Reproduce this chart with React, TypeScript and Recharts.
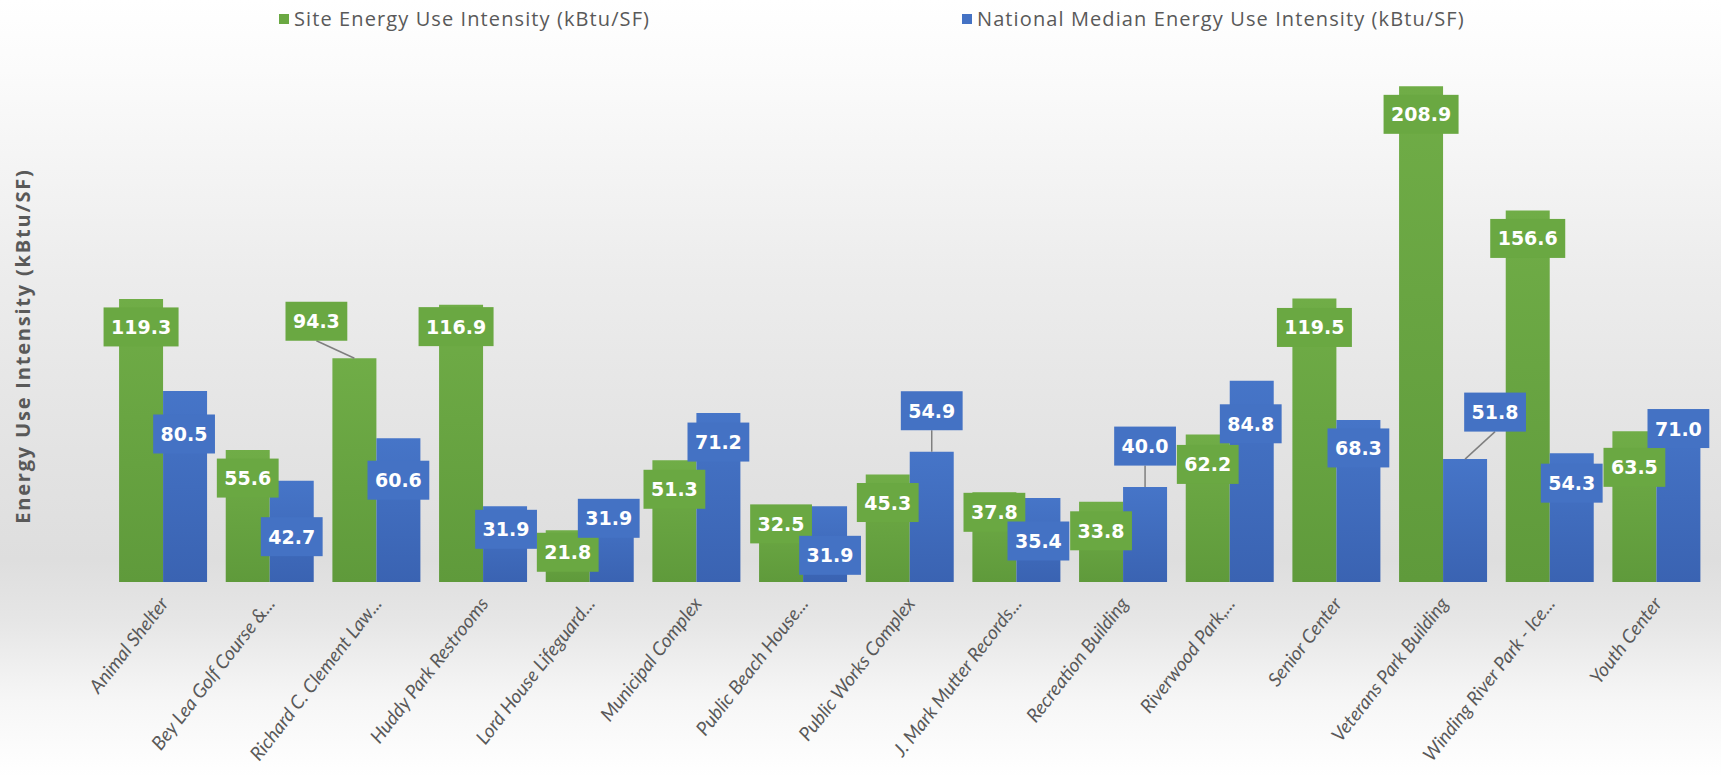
import React from 'react';
import { BarChart, Bar, XAxis, YAxis, LabelList } from 'recharts';

const buildings = [
  'Animal Shelter',
  'Bey Lea Golf Course &...',
  'Richard C. Clement Law...',
  'Huddy Park Restrooms',
  'Lord House Lifeguard...',
  'Municipal Complex',
  'Public Beach House...',
  'Public Works Complex',
  'J. Mark Mutter Records...',
  'Recreation Building',
  'Riverwood Park,...',
  'Senior Center',
  'Veterans Park Building',
  'Winding River Park - Ice...',
  'Youth Center',
];

const siteEui = [119.3, 55.6, 94.3, 116.9, 21.8, 51.3, 32.5, 45.3, 37.8, 33.8, 62.2, 119.5, 208.9, 156.6, 63.5];
const nationalEui = [80.5, 42.7, 60.6, 31.9, 31.9, 71.2, 31.9, 54.9, 35.4, 40.0, 84.8, 68.3, 51.8, 54.3, 71.0];

const yDomain: [number, number] = [0, 220];

// label box placement relative to the bar top (box centre), like Excel's callouts
const siteNudge: [number, number][] = [
  [0, 28], [0, 28], [-38, -37], [-5, 22], [0, 22], [0, 29], [0, 19], [0, 28],
  [0, 20], [0, 29], [0, 30], [0, 29], [0, 28], [0, 28], [0, 36],
];
const nationalNudge: [number, number][] = [
  [-1, 43], [0, 56], [0, 42], [1, 23], [-3, 12], [0, 29], [5, 49], [0, -41],
  [0, 43], [0, -41], [-1, 43], [0, 28], [30, -47], [0, 30], [0, 15],
];
const callouts = {
  site: [2],
  national: [7, 9, 12],
};

const data = buildings.map((name, i) => ({
  name,
  site: siteEui[i],
  national: nationalEui[i],
}));

const GREEN = '#6aa842';
const BLUE = '#4472c4';
const GREY = '#595959';

function makeLabel(series: 'site' | 'national') {
  const nudge = series === 'site' ? siteNudge : nationalNudge;
  const fill = series === 'site' ? GREEN : BLUE;
  return (props: any) => {
    const { x, y, width, value, index } = props;
    const [dx, dy] = nudge[index] || [0, 28];
    const barCx = Number(x) + Number(width) / 2;
    const barTop = Number(y);
    const cx = barCx + dx;
    const cy = barTop + dy;
    const txt = Number(value).toFixed(1);
    const digits = txt.replace('.', '').length;
    const w = digits * 13.2 + 7.2 + 15;
    const h = 39;
    const isCallout = callouts[series].includes(index);
    return (
      <g>
        {isCallout && (
          <line x1={cx} y1={cy + h / 2} x2={barCx} y2={barTop} stroke="#7f7f7f" strokeWidth={1.5} />
        )}
        <rect x={cx - w / 2} y={cy - h / 2} width={w} height={h} fill={fill} />
        <text
          x={cx}
          y={cy}
          textAnchor="middle"
          dominantBaseline="central"
          fill="#ffffff"
          fontFamily="DejaVu Sans"
          fontWeight="bold"
          fontSize={19}
        >
          {txt}
        </text>
      </g>
    );
  };
}

function NameTick(props: any) {
  const { x, y, payload } = props;
  return (
    <g transform={`translate(${x + 6},${y + 14})`}>
      <text
        textAnchor="end"
        transform="rotate(-52)"
        fill={GREY}
        fontFamily="Lato"
        fontStyle="italic"
        fontSize={19}
      >
        {payload.value}
      </text>
    </g>
  );
}

const legendStyle: React.CSSProperties = {
  position: 'absolute',
  top: 5,
  display: 'flex',
  alignItems: 'center',
  color: GREY,
  fontSize: 20,
  letterSpacing: 1.1,
  whiteSpace: 'nowrap',
};

export default function App() {
  return (
    <div
      style={{
        position: 'absolute',
        left: 0,
        top: 0,
        width: 1721,
        height: 777,
        background:
          'linear-gradient(to bottom, #ffffff 0%, #fbfbfb 9%, #ececec 36%, #e3e3e3 58%, #dedede 72%, #e6e6e6 80%, #f6f6f6 90%, #ffffff 100%)',
        fontFamily: 'Open Sans',
      }}
    >
      <div style={{ ...legendStyle, left: 279 }}>
        <span style={{ width: 10, height: 10, background: GREEN, marginRight: 5 }} />
        Site Energy Use Intensity (kBtu/SF)
      </div>
      <div style={{ ...legendStyle, left: 962 }}>
        <span style={{ width: 10, height: 10, background: BLUE, marginRight: 5 }} />
        National Median Energy Use Intensity (kBtu/SF)
      </div>
      <div
        style={{
          position: 'absolute',
          left: 22,
          top: 346,
          transform: 'translate(-50%, -50%) rotate(-90deg)',
          whiteSpace: 'nowrap',
          color: GREY,
          fontSize: 20,
          letterSpacing: 1.8,
          fontWeight: 'bold',
        }}
      >
        Energy Use Intensity (kBtu/SF)
      </div>
      <BarChart
        width={1721}
        height={777}
        data={data}
        margin={{ top: 60, right: 11, bottom: 0, left: 110 }}
        barCategoryGap="8.5%"
        barGap={0}
      >
        <defs>
          <linearGradient id="gGreen" x1="0" y1="0" x2="0" y2="1">
            <stop offset="0%" stopColor="#70ad47" />
            <stop offset="100%" stopColor="#5f9a3b" />
          </linearGradient>
          <linearGradient id="gBlue" x1="0" y1="0" x2="0" y2="1">
            <stop offset="0%" stopColor="#4675c8" />
            <stop offset="100%" stopColor="#3a63b2" />
          </linearGradient>
        </defs>
        <XAxis
          dataKey="name"
          interval={0}
          tick={<NameTick />}
          tickLine={false}
          axisLine={false}
          height={195}
        />
        <XAxis xAxisId="labels" dataKey="name" hide />
        <YAxis domain={yDomain} hide />
        <Bar dataKey="site" fill="url(#gGreen)" isAnimationActive={false} />
        <Bar dataKey="national" fill="url(#gBlue)" isAnimationActive={false} />
        {/* label-only copies so every callout sits above both bar series */}
        <Bar xAxisId="labels" dataKey="site" fill="none" isAnimationActive={false}>
          <LabelList dataKey="site" content={makeLabel('site')} />
        </Bar>
        <Bar xAxisId="labels" dataKey="national" fill="none" isAnimationActive={false}>
          <LabelList dataKey="national" content={makeLabel('national')} />
        </Bar>
      </BarChart>
    </div>
  );
}
